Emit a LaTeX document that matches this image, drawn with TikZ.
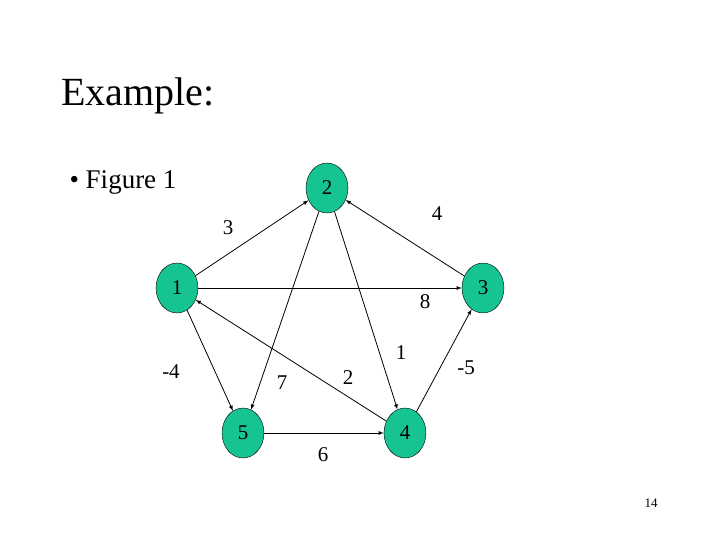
\documentclass[tikz,border=0pt]{standalone}
\usepackage{fontspec}
\setmainfont{Liberation Serif}
\usetikzlibrary{shapes.geometric,arrows}
\definecolor{vgreen}{RGB}{22,196,146}

\begin{document}
\begin{tikzpicture}[x=1pt,y=-1pt,
	vertex/.style={ellipse,draw=black,fill=vgreen,minimum width=42pt,minimum height=50pt,inner sep=0pt,font=\fontsize{21}{21}\selectfont},
	wt/.style={font=\fontsize{21}{21}\selectfont},
	line/.style={draw,thick,-latex}]
\useasboundingbox (0,0) rectangle (720,540);
\node[anchor=west,font=\fontsize{40}{40}\selectfont] (title) at (58,96) {Example:};
\node[anchor=west,font=\fontsize{27}{27}\selectfont] (item) at (66,182) {\textbullet\ Figure 1};
\node[vertex] (v2) at (327,188) {2};
\node[vertex] (v1) at (177,288) {1};
\node[vertex] (v3) at (483,288) {3};
\node[vertex] (v5) at (243,433) {5};
\node[vertex] (v4) at (405,433) {4};
\path[line] (v1) -- (v2);
\path[line] (v3) -- (v2);
\path[line] (v1) -- (v3);
\path[line] (v1) -- (v5);
\path[line] (v2) -- (v5);
\path[line] (v2) -- (v4);
\path[line] (v4) -- (v1);
\path[line] (v5) -- (v4);
\path[line] (v4) -- (v3);
\node[wt] (w12) at (228,228) {3};
\node[wt] (w32) at (437,214) {4};
\node[wt] (w13) at (425,302) {8};
\node[wt] (w15) at (171,372) {-4};
\node[wt] (w25) at (282,383) {7};
\node[wt] (w24) at (401,353) {1};
\node[wt] (w41) at (348,378) {2};
\node[wt] (w54) at (323,455) {6};
\node[wt] (w43) at (466,368) {-5};
\node[font=\fontsize{13}{13}\selectfont] (page) at (651,503) {14};
\end{tikzpicture}
\end{document}
